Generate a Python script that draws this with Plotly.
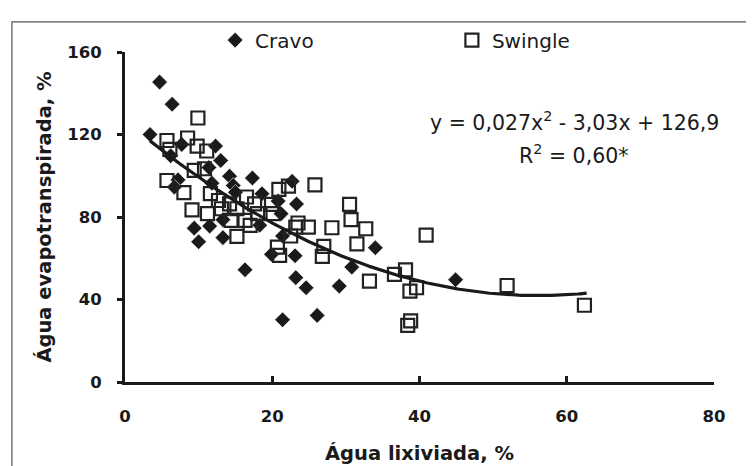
import numpy as np
import plotly.graph_objects as go

# Cravo (diamonds)
cravo_x = [3.4, 4.7, 6.4, 6.2, 7.7, 7.2, 6.7, 9.4, 10.0, 11.5, 11.4, 12.3, 13.0, 11.8, 13.3, 13.3,
           14.2, 14.7, 15.0, 16.3, 17.3, 18.6, 18.3, 19.9, 20.8, 21.2, 21.4, 21.4, 22.7, 23.3,
           23.1, 23.2, 24.6, 26.1, 29.1, 30.8, 34.0, 44.9]
cravo_y = [120.0, 145.4, 134.7, 109.7, 115.2, 98.0, 94.5, 74.6, 68.0, 75.6, 104.0, 114.4, 107.4, 96.4, 70.0, 78.7,
           99.8, 95.3, 92.0, 54.4, 98.9, 91.3, 76.0, 61.9, 87.7, 81.6, 70.8, 30.2, 97.3, 86.3,
           61.2, 50.6, 45.7, 32.3, 46.5, 55.7, 65.1, 49.6]

# Swingle (open squares)
swingle_x = [9.9, 5.7, 6.1, 8.5, 9.8, 11.1, 5.7, 8.0, 9.1, 9.4, 10.8, 11.2, 11.6, 12.7, 13.1, 14.2,
             14.4, 15.2, 15.2, 16.5, 16.3, 17.0, 17.6, 18.0, 19.9, 20.1, 20.9, 22.2, 20.7, 21.0,
             22.5, 23.5, 23.2, 24.9, 25.8, 27.0, 26.8, 28.1, 30.5, 30.7, 31.5, 32.7, 33.2, 36.6,
             38.1, 38.4, 38.8, 38.7, 39.6, 40.9, 51.9, 62.4]
swingle_y = [128.0, 117.1, 112.8, 118.3, 114.4, 112.0, 97.7, 91.8, 83.5, 102.6, 103.4, 81.6, 91.3, 88.0, 84.0, 86.4,
             78.4, 70.6, 84.0, 89.7, 78.4, 75.9, 86.4, 81.6, 86.1, 81.6, 93.4, 95.0, 65.4, 61.4,
             70.8, 77.1, 75.1, 75.1, 95.6, 65.8, 60.9, 74.8, 86.1, 78.7, 67.0, 74.3, 48.9, 52.2,
             54.4, 27.5, 29.6, 44.1, 45.7, 71.2, 46.8, 37.2]

# Fitted trend (coefficients shown on the chart)
coef_a, coef_b, coef_c = 0.027, -3.03, 126.9
fit_range = [3.4, 62.7]

x_ticks = [0, 20, 40, 60, 80]
y_ticks = [0, 40, 80, 120, 160]

fx = np.linspace(fit_range[0], fit_range[1], 200)
fy = coef_a * fx**2 + coef_b * fx + coef_c

FONT = "DejaVu Sans, sans-serif"
INK = "#1a1a1a"

fig = go.Figure()
fig.add_trace(go.Scatter(x=cravo_x, y=cravo_y, mode="markers", name="Cravo", legend="legend",
                         marker=dict(symbol="diamond", size=12, color=INK,
                                     line=dict(color="white", width=0.6))))
fig.add_trace(go.Scatter(x=swingle_x, y=swingle_y, mode="markers", name="Swingle", legend="legend2",
                         marker=dict(symbol="square-open", size=13, color="#222222",
                                     line=dict(color="#222222", width=2.2))))
fig.add_trace(go.Scatter(x=fx, y=fy, mode="lines", showlegend=False,
                         line=dict(color=INK, width=3.2), hoverinfo="skip"))

leg_common = dict(orientation="h", yanchor="middle", xanchor="left", y=1.036,
                  font=dict(size=20, family=FONT, color=INK), itemwidth=30,
                  bgcolor="rgba(0,0,0,0)", borderwidth=0)

# page body has an 8px margin, so the figure is shifted by 8px; margins compensate
fig.update_layout(
    width=754, height=466,
    margin=dict(l=117, r=48, t=44, b=92, autoexpand=False),
    paper_bgcolor="white", plot_bgcolor="white",
    font=dict(family=FONT, color=INK),
    showlegend=True,
    legend=dict(x=0.153, **leg_common),
    legend2=dict(x=0.555, **leg_common),
    xaxis=dict(range=[0, 80], tickvals=x_ticks, ticktext=[str(v) for v in x_ticks],
               showgrid=False, zeroline=False, showline=True, linecolor=INK, linewidth=3,
               ticks="inside", ticklen=6, tickwidth=2.5, tickcolor=INK,
               ticklabelstandoff=17,
               tickfont=dict(size=16.5, family=FONT, weight="bold", color=INK),
               title=dict(text="Água lixiviada, %", font=dict(size=19.5, family=FONT, weight="bold", color=INK),
                          standoff=22)),
    yaxis=dict(range=[0, 160], tickvals=y_ticks, ticktext=[str(v) for v in y_ticks],
               showgrid=False, zeroline=False, showline=True, linecolor=INK, linewidth=3,
               ticks="outside", ticklen=5, tickwidth=2.5, tickcolor=INK,
               ticklabelstandoff=12,
               tickfont=dict(size=16.5, family=FONT, weight="bold", color=INK),
               title=dict(text="Água evapotranspirada, %", font=dict(size=19.5, family=FONT, weight="bold", color=INK),
                          standoff=11)),
)

fig.add_annotation(x=0.764, y=0.788, xref="paper", yref="paper", showarrow=False,
                   xanchor="center", yanchor="middle",
                   text="y = 0,027x<sup>2</sup> - 3,03x + 126,9",
                   font=dict(size=20.5, family=FONT, color=INK))
fig.add_annotation(x=0.762, y=0.688, xref="paper", yref="paper", showarrow=False,
                   xanchor="center", yanchor="middle",
                   text="R<sup>2</sup> = 0,60*",
                   font=dict(size=20.5, family=FONT, color=INK))

# outer frame
fig.add_shape(type="rect", xref="paper", yref="paper",
              x0=-0.192, y0=-0.3, x1=1.1, y1=1.091,
              line=dict(color="#555555", width=1.2), fillcolor="rgba(0,0,0,0)", layer="below")

fig.write_html("out.html")
